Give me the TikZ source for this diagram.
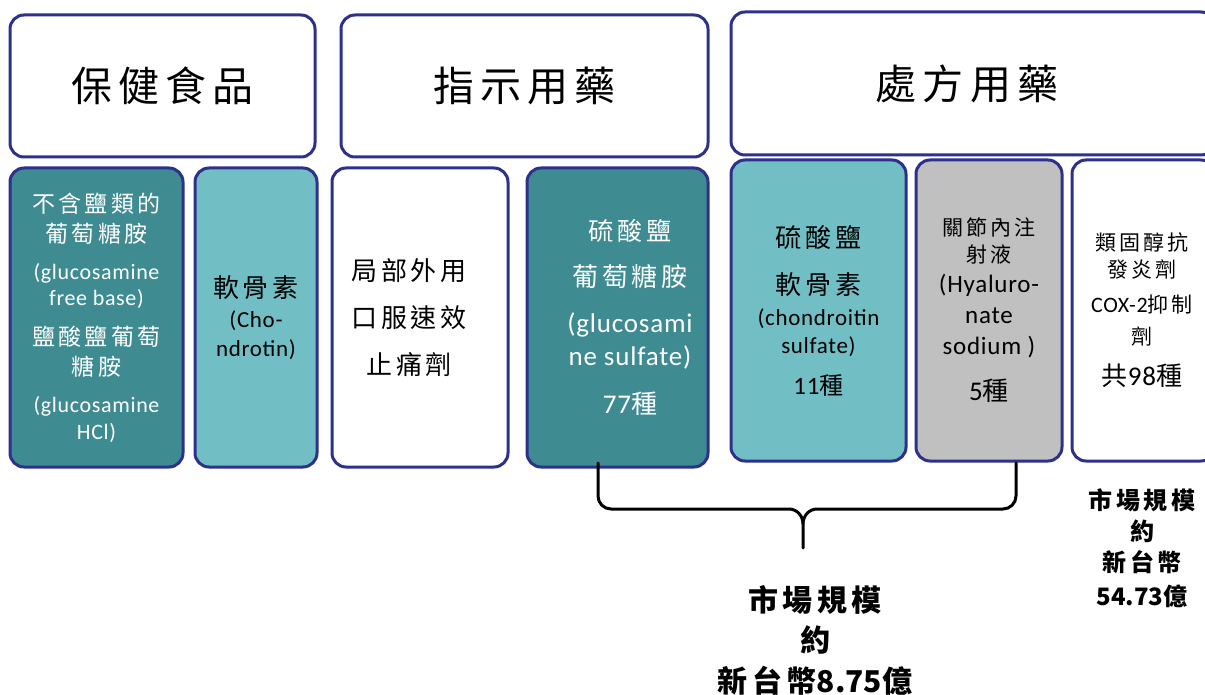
\documentclass[tikz,border=0pt]{standalone}
\usepackage{fontspec}
\setmainfont[LetterSpace=3]{Carlito}
\newfontfamily\cjk[LetterSpace=15]{Noto Sans CJK TC}
\newfontfamily\cjkn{Noto Sans CJK TC}
\newcommand\zh[2]{{\cjk\fontsize{#1}{#1}\selectfont #2}}
\newcommand\en[2]{{\fontsize{#1}{#1}\selectfont #2}}
\definecolor{bord}{RGB}{46,49,140}
\definecolor{dteal}{RGB}{62,139,146}
\definecolor{lteal}{RGB}{114,190,197}
\definecolor{gbox}{RGB}{192,192,192}
\tikzset{
  card/.style={draw=bord, line width=3pt, rounded corners=14pt, inner sep=0pt, align=center},
  bs/.style={font={\fontsize{10}{#1}\selectfont\lineskiplimit=-50pt}},
  brace/.style={line width=3pt, line cap=round, line join=round},
}
\begin{document}
\begin{tikzpicture}[x=1pt,y=-1pt]
\useasboundingbox (0,0) rectangle (1205,695);
% header row
\node[card, fill=white, minimum width=305, minimum height=142] (h1) at (162.5,86) {\zh{41}{保健食品}};
\node[card, fill=white, minimum width=367, minimum height=142] (h2) at (524.5,86) {\zh{41}{指示用藥}};
\node[card, fill=white, minimum width=484, minimum height=143] (h3) at (973,83.5) {};
\node (h3t) at (967,83.5) {\zh{41}{處方用藥}};
% second row
\node[card, fill=dteal, text=white, minimum width=173, minimum height=299, bs=26] (a) at (96.5,317.5)
 {\zh{23}{不含鹽類的}\\[4pt]\zh{23}{葡萄糖胺}\\[11pt]\en{22}{(glucosamine}\\\en{22}{free base)}\\[14pt]\zh{23}{鹽酸鹽葡萄}\\[4pt]\zh{23}{糖胺}\\[11pt]\en{22}{(glucosamine}\\[1pt]\en{22}{HCl)}};
\node[card, fill=lteal, minimum width=122, minimum height=299, bs=30] (b) at (256,317.5)
 {\zh{26}{軟骨素}\\\en{23}{(Cho-}\\[-1pt]\en{23}{ndrotin)}};
\node[card, fill=white, minimum width=176, minimum height=299] (c) at (420,317.5) {};
\node[align=center, bs=47] (ct) at (409,317.5) {\zh{26}{局部外用}\\\zh{26}{口服速效}\\\zh{26}{止痛劑}};
\node[card, fill=dteal, minimum width=181, minimum height=299] (d) at (617.5,317.5) {};
\node[align=center, text=white, bs=33] (dt) at (630,317.5)
 {\zh{25}{硫酸鹽}\\[13pt]\zh{26}{葡萄糖胺}\\[13pt]\en{27}{(glucosami}\\\en{27}{ne sulfate)}\\[15pt]\en{27}{77}\zh{26}{種}};
\node[card, fill=lteal, minimum width=175, minimum height=301, bs=30] (e) at (818.5,310.5)
 {\zh{26}{硫酸鹽}\\[17pt]\zh{26}{軟骨素}\\[1pt]\en{23}{(chondroitin}\\[-2pt]\en{23}{sulfate)}\\[11pt]\en{25}{11}\zh{24}{種}};
\node[card, fill=gbox, minimum width=146, minimum height=301, bs=30] (f) at (989,310.5)
 {\zh{21}{關節內注}\\[-3pt]\zh{21}{射液}\\\en{25}{(Hyaluro-}\\[1pt]\en{25}{nate}\\[1pt]\en{25}{sodium )}\\[16pt]\en{27}{5}\zh{26}{種}};
\node[card, fill=white, minimum width=143, minimum height=301] (g) at (1143.5,310.5) {};
\node[align=center, bs=30] (gt) at (1142,310.5)
 {\zh{21}{類固醇抗}\\[-3pt]\zh{21}{發炎劑}\\[5pt]\en{22}{COX-2}\zh{21}{抑制}\\[2pt]\zh{21}{劑}\\[11pt]\zh{26}{共}\en{27}{98}\zh{26}{種}};
% brace
\coordinate (bl) at (598,463);
\coordinate (br) at (1016,463);
\coordinate (bm) at (803,524);
\coordinate (bt) at (803,548);
\draw[brace] (bl) -- (598,496) to[out=-90,in=180] (611,509) -- (789,509) to[out=0,in=90] (bm) -- (bt);
\draw[brace] (bm) to[out=90,in=180] (817,509) -- (1003,509) to[out=0,in=-90] (1016,496) -- (br);
% market size texts
\node[align=center, bs=40] (m1) at (815,640)
 {{\cjk\bfseries\fontsize{30}{30}\selectfont 市場規模}\\{\cjk\bfseries\fontsize{30}{30}\selectfont 約}\\[1pt]{\cjk\bfseries\fontsize{30}{30}\selectfont 新台幣}{\cjkn\bfseries\fontsize{30}{30}\selectfont 8.75}{\cjk\bfseries\fontsize{30}{30}\selectfont 億}};
\node[align=center, bs=31] (m2) at (1142,548)
 {{\cjk\bfseries\fontsize{24}{24}\selectfont 市場規模}\\{\cjk\bfseries\fontsize{24}{24}\selectfont 約}\\{\cjk\bfseries\fontsize{24}{24}\selectfont 新台幣}\\[3pt]{\cjkn\bfseries\fontsize{24}{24}\selectfont 54.73}{\cjk\bfseries\fontsize{24}{24}\selectfont 億}};
\end{tikzpicture}
\end{document}
